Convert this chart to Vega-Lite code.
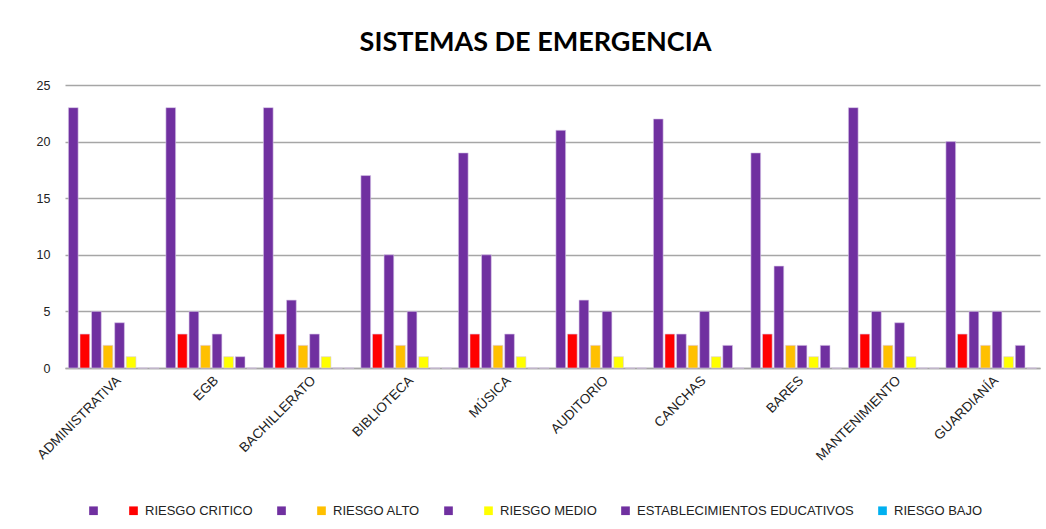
{
  "$schema": "https://vega.github.io/schema/vega-lite/v6.json",
  "width": 975,
  "height": 283,
  "autosize": {"type": "none"},
  "padding": {"left": 65, "top": 85, "right": 6, "bottom": 161},
  "background": "white",
  "title": {
    "text": "SISTEMAS DE EMERGENCIA",
    "font": "Lato",
    "fontSize": 27,
    "fontWeight": "bold",
    "color": "#000000",
    "anchor": "middle",
    "frame": "group",
    "dx": -17,
    "offset": 22
  },
  "config": {
    "view": {"stroke": null},
    "font": "Liberation Sans"
  },
  "data": {
    "values": [
      {"cat": "ADMINISTRATIVA", "serie": " ", "v": 23},
      {"cat": "ADMINISTRATIVA", "serie": "RIESGO CRITICO", "v": 3},
      {"cat": "ADMINISTRATIVA", "serie": "  ", "v": 5},
      {"cat": "ADMINISTRATIVA", "serie": "RIESGO ALTO", "v": 2},
      {"cat": "ADMINISTRATIVA", "serie": "   ", "v": 4},
      {"cat": "ADMINISTRATIVA", "serie": "RIESGO MEDIO", "v": 1},
      {"cat": "ADMINISTRATIVA", "serie": "ESTABLECIMIENTOS EDUCATIVOS", "v": 0},
      {"cat": "ADMINISTRATIVA", "serie": "RIESGO BAJO", "v": 0},
      {"cat": "EGB", "serie": " ", "v": 23},
      {"cat": "EGB", "serie": "RIESGO CRITICO", "v": 3},
      {"cat": "EGB", "serie": "  ", "v": 5},
      {"cat": "EGB", "serie": "RIESGO ALTO", "v": 2},
      {"cat": "EGB", "serie": "   ", "v": 3},
      {"cat": "EGB", "serie": "RIESGO MEDIO", "v": 1},
      {"cat": "EGB", "serie": "ESTABLECIMIENTOS EDUCATIVOS", "v": 1},
      {"cat": "EGB", "serie": "RIESGO BAJO", "v": 0},
      {"cat": "BACHILLERATO", "serie": " ", "v": 23},
      {"cat": "BACHILLERATO", "serie": "RIESGO CRITICO", "v": 3},
      {"cat": "BACHILLERATO", "serie": "  ", "v": 6},
      {"cat": "BACHILLERATO", "serie": "RIESGO ALTO", "v": 2},
      {"cat": "BACHILLERATO", "serie": "   ", "v": 3},
      {"cat": "BACHILLERATO", "serie": "RIESGO MEDIO", "v": 1},
      {"cat": "BACHILLERATO", "serie": "ESTABLECIMIENTOS EDUCATIVOS", "v": 0},
      {"cat": "BACHILLERATO", "serie": "RIESGO BAJO", "v": 0},
      {"cat": "BIBLIOTECA", "serie": " ", "v": 17},
      {"cat": "BIBLIOTECA", "serie": "RIESGO CRITICO", "v": 3},
      {"cat": "BIBLIOTECA", "serie": "  ", "v": 10},
      {"cat": "BIBLIOTECA", "serie": "RIESGO ALTO", "v": 2},
      {"cat": "BIBLIOTECA", "serie": "   ", "v": 5},
      {"cat": "BIBLIOTECA", "serie": "RIESGO MEDIO", "v": 1},
      {"cat": "BIBLIOTECA", "serie": "ESTABLECIMIENTOS EDUCATIVOS", "v": 0},
      {"cat": "BIBLIOTECA", "serie": "RIESGO BAJO", "v": 0},
      {"cat": "MÚSICA", "serie": " ", "v": 19},
      {"cat": "MÚSICA", "serie": "RIESGO CRITICO", "v": 3},
      {"cat": "MÚSICA", "serie": "  ", "v": 10},
      {"cat": "MÚSICA", "serie": "RIESGO ALTO", "v": 2},
      {"cat": "MÚSICA", "serie": "   ", "v": 3},
      {"cat": "MÚSICA", "serie": "RIESGO MEDIO", "v": 1},
      {"cat": "MÚSICA", "serie": "ESTABLECIMIENTOS EDUCATIVOS", "v": 0},
      {"cat": "MÚSICA", "serie": "RIESGO BAJO", "v": 0},
      {"cat": "AUDITORIO", "serie": " ", "v": 21},
      {"cat": "AUDITORIO", "serie": "RIESGO CRITICO", "v": 3},
      {"cat": "AUDITORIO", "serie": "  ", "v": 6},
      {"cat": "AUDITORIO", "serie": "RIESGO ALTO", "v": 2},
      {"cat": "AUDITORIO", "serie": "   ", "v": 5},
      {"cat": "AUDITORIO", "serie": "RIESGO MEDIO", "v": 1},
      {"cat": "AUDITORIO", "serie": "ESTABLECIMIENTOS EDUCATIVOS", "v": 0},
      {"cat": "AUDITORIO", "serie": "RIESGO BAJO", "v": 0},
      {"cat": "CANCHAS", "serie": " ", "v": 22},
      {"cat": "CANCHAS", "serie": "RIESGO CRITICO", "v": 3},
      {"cat": "CANCHAS", "serie": "  ", "v": 3},
      {"cat": "CANCHAS", "serie": "RIESGO ALTO", "v": 2},
      {"cat": "CANCHAS", "serie": "   ", "v": 5},
      {"cat": "CANCHAS", "serie": "RIESGO MEDIO", "v": 1},
      {"cat": "CANCHAS", "serie": "ESTABLECIMIENTOS EDUCATIVOS", "v": 2},
      {"cat": "CANCHAS", "serie": "RIESGO BAJO", "v": 0},
      {"cat": "BARES", "serie": " ", "v": 19},
      {"cat": "BARES", "serie": "RIESGO CRITICO", "v": 3},
      {"cat": "BARES", "serie": "  ", "v": 9},
      {"cat": "BARES", "serie": "RIESGO ALTO", "v": 2},
      {"cat": "BARES", "serie": "   ", "v": 2},
      {"cat": "BARES", "serie": "RIESGO MEDIO", "v": 1},
      {"cat": "BARES", "serie": "ESTABLECIMIENTOS EDUCATIVOS", "v": 2},
      {"cat": "BARES", "serie": "RIESGO BAJO", "v": 0},
      {"cat": "MANTENIMIENTO", "serie": " ", "v": 23},
      {"cat": "MANTENIMIENTO", "serie": "RIESGO CRITICO", "v": 3},
      {"cat": "MANTENIMIENTO", "serie": "  ", "v": 5},
      {"cat": "MANTENIMIENTO", "serie": "RIESGO ALTO", "v": 2},
      {"cat": "MANTENIMIENTO", "serie": "   ", "v": 4},
      {"cat": "MANTENIMIENTO", "serie": "RIESGO MEDIO", "v": 1},
      {"cat": "MANTENIMIENTO", "serie": "ESTABLECIMIENTOS EDUCATIVOS", "v": 0},
      {"cat": "MANTENIMIENTO", "serie": "RIESGO BAJO", "v": 0},
      {"cat": "GUARDIANÍA", "serie": " ", "v": 20},
      {"cat": "GUARDIANÍA", "serie": "RIESGO CRITICO", "v": 3},
      {"cat": "GUARDIANÍA", "serie": "  ", "v": 5},
      {"cat": "GUARDIANÍA", "serie": "RIESGO ALTO", "v": 2},
      {"cat": "GUARDIANÍA", "serie": "   ", "v": 5},
      {"cat": "GUARDIANÍA", "serie": "RIESGO MEDIO", "v": 1},
      {"cat": "GUARDIANÍA", "serie": "ESTABLECIMIENTOS EDUCATIVOS", "v": 2},
      {"cat": "GUARDIANÍA", "serie": "RIESGO BAJO", "v": 0}
    ]
  },
  "mark": {"type": "bar", "stroke": "#d9c8ea", "strokeWidth": 0.6},
  "encoding": {
    "x": {
      "field": "cat",
      "type": "nominal",
      "sort": null,
      "scale": {"paddingInner": 0.07, "paddingOuter": 0.035},
      "axis": {
        "title": null,
        "labelAngle": -45,
        "labelFont": "Liberation Sans",
        "labelFontSize": 13.5,
        "labelColor": "#222222",
        "ticks": false,
        "labelPadding": 5,
        "labelLimit": 0,
        "domainColor": "#a6a6a6",
        "domainWidth": 1.5
      }
    },
    "xOffset": {
      "field": "serie",
      "type": "nominal",
      "sort": [" ", "RIESGO CRITICO", "  ", "RIESGO ALTO", "   ", "RIESGO MEDIO", "ESTABLECIMIENTOS EDUCATIVOS", "RIESGO BAJO"],
      "scale": {"paddingInner": 0.16}
    },
    "y": {
      "field": "v",
      "type": "quantitative",
      "scale": {"domain": [0, 25]},
      "axis": {
        "title": null,
        "values": [0, 5, 10, 15, 20, 25],
        "domain": false,
        "ticks": false,
        "labelFont": "Liberation Sans",
        "labelFontSize": 12.5,
        "labelColor": "#222222",
        "labelPadding": 15,
        "gridColor": "#a6a6a6",
        "gridWidth": 1.5
      }
    },
    "color": {
      "field": "serie",
      "type": "nominal",
      "scale": {
        "domain": [" ", "RIESGO CRITICO", "  ", "RIESGO ALTO", "   ", "RIESGO MEDIO", "ESTABLECIMIENTOS EDUCATIVOS", "RIESGO BAJO"],
        "range": ["#7030A0", "#FF0000", "#7030A0", "#FFC000", "#7030A0", "#FFFF00", "#7030A0", "#00B0F0"]
      },
      "legend": {
        "title": null,
        "orient": "none",
        "legendX": 22,
        "legendY": 419,
        "direction": "horizontal",
        "symbolType": "square",
        "symbolSize": 75,
        "symbolStrokeWidth": 0,
        "labelFont": "Liberation Sans",
        "labelFontSize": 13,
        "labelLimit": 0,
        "labelColor": "#222222",
        "columnPadding": 22,
        "labelOffset": 5
      }
    }
  }
}
